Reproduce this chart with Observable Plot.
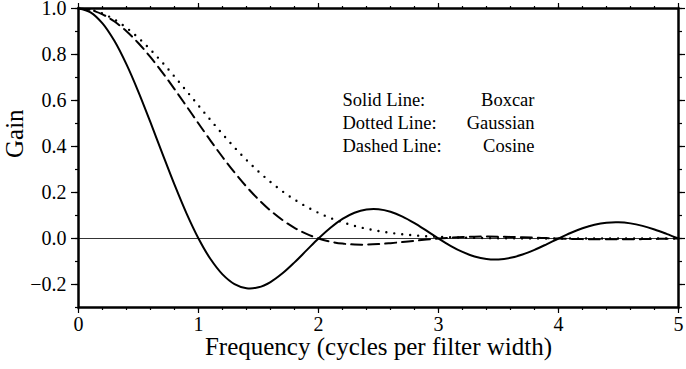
<!DOCTYPE html>
<html>
<head>
<meta charset="utf-8">
<script src="https://cdn.jsdelivr.net/npm/d3@7"></script>
<script src="https://cdn.jsdelivr.net/npm/@observablehq/plot@0.6"></script>
<style>
  html, body { margin: 0; padding: 0; background: #fff; }
  #chart svg { display: block; }
</style>
</head>
<body>
<div id="chart"></div>
<script>
// Frequency (cycles per filter width)
const freq = [0,0.1,0.2,0.3,0.4,0.5,0.6,0.7,0.8,0.9,1.0,1.1,1.2,1.3,1.4,1.5,1.6,1.7,1.8,1.9,2.0,2.1,2.2,2.3,2.4,2.5,2.6,2.7,2.8,2.9,3.0,3.1,3.2,3.3,3.4,3.5,3.6,3.7,3.8,3.9,4.0,4.1,4.2,4.3,4.4,4.5,4.6,4.7,4.8,4.9,5.0];
// Solid line: Boxcar
const boxcar = [1,0.9836,0.9355,0.8584,0.7568,0.6366,0.5046,0.3679,0.2339,0.1093,0,-0.0894,-0.1559,-0.1981,-0.2162,-0.2122,-0.1892,-0.1515,-0.1039,-0.0518,0,0.0468,0.0850,0.1120,0.1261,0.1273,0.1164,0.0954,0.0668,0.0339,0,-0.0317,-0.0585,-0.0780,-0.0890,-0.0909,-0.0841,-0.0696,-0.0492,-0.0252,0,0.0240,0.0445,0.0599,0.0688,0.0707,0.0658,0.0548,0.0390,0.0201,0];
// Dotted line: Gaussian
const gaussian = [1,0.9945,0.9783,0.9518,0.9160,0.8719,0.8209,0.7644,0.7041,0.6414,0.5779,0.5151,0.4541,0.3959,0.3414,0.2912,0.2457,0.2050,0.1692,0.1382,0.1116,0.0891,0.0704,0.0550,0.0425,0.0325,0.0246,0.0184,0.0136,0.0099,0.0072,0.0051,0.0036,0.0026,0.0018,0.0012,0.0008,0.0005,0.0004,0.0002,0.0001,0.0001,0,0,0,0,0,0,0,0,0];
// Dashed line: Cosine
const cosine = [1,0.9935,0.9745,0.9433,0.9010,0.8488,0.7884,0.7214,0.6497,0.5752,0.5,0.4257,0.3543,0.2871,0.2252,0.1698,0.1213,0.0802,0.0464,0.0198,0,-0.0137,-0.0221,-0.0261,-0.0265,-0.0242,-0.0202,-0.0152,-0.0098,-0.0046,0,0.0037,0.0063,0.0079,0.0084,0.0081,0.0070,0.0055,0.0037,0.0018,0,-0.0015,-0.0027,-0.0034,-0.0037,-0.0037,-0.0033,-0.0026,-0.0018,-0.0009,0];

const xMajor = [0,1,2,3,4,5];
const xMinor = d3.range(0, 5.001, 0.2).map(v => +v.toFixed(1));
const yMajor = [-0.2,0.0,0.2,0.4,0.6,0.8,1.0];
const yMinor = d3.range(-0.3, 1.0001, 0.1).map(v => +v.toFixed(1));

const legendLeft = ["Solid Line:", "Dotted Line:", "Dashed Line:"];
const legendRight = ["Boxcar", "Gaussian", "Cosine"];
const legendY = [0.6, 0.5, 0.4];

const xLabel = "Frequency (cycles per filter width)";
const yLabel = "Gain";

const toRows = vals => freq.map((f, i) => ({f, g: vals[i]}));

const font = "Liberation Serif, Times New Roman, serif";

const chart = Plot.plot({
  width: 686,
  height: 369,
  marginLeft: 78,
  marginRight: 8,
  marginTop: 8,
  marginBottom: 62,
  x: {domain: [0, 5]},
  y: {domain: [-0.3, 1.0]},
  style: {fontFamily: font, background: "#fff", color: "#000", overflow: "visible"},
  marks: [
    Plot.ruleY([0], {stroke: "#000", strokeWidth: 0.8}),
    Plot.line(toRows(boxcar), {x: "f", y: "g", stroke: "#000", strokeWidth: 2, curve: "catmull-rom"}),
    Plot.line(toRows(gaussian), {x: "f", y: "g", stroke: "#000", strokeWidth: 2.4, strokeDasharray: "0,8", strokeLinecap: "round", curve: "catmull-rom"}),
    Plot.line(toRows(cosine), {x: "f", y: "g", stroke: "#000", strokeWidth: 2, strokeDasharray: "11,6", curve: "catmull-rom"}),
    Plot.text(legendLeft, {x: 2.2, y: (d, i) => legendY[i], text: d => d, textAnchor: "start", fontSize: 18.5, fill: "#000"}),
    Plot.text(legendRight, {x: 3.8, y: (d, i) => legendY[i], text: d => d, textAnchor: "end", fontSize: 18.5, fill: "#000"}),
    // axes: bottom
    Plot.axisX({anchor: "bottom", ticks: xMajor, tickSize: 6, tickPadding: 3, tickFormat: d3.format("d"), fontSize: 20, label: null, strokeWidth: 1.2}),
    Plot.axisX({anchor: "bottom", ticks: xMinor, tickSize: 3, tickFormat: () => "", label: null, strokeWidth: 1.2}),
    Plot.axisX({anchor: "top", ticks: xMajor, tickSize: 6, tickFormat: () => "", label: null, strokeWidth: 1.2}),
    Plot.axisX({anchor: "top", ticks: xMinor, tickSize: 3, tickFormat: () => "", label: null, strokeWidth: 1.2}),
    Plot.axisY({anchor: "left", ticks: yMajor, tickSize: 7, tickPadding: 5, tickFormat: d => d3.format(".1f")(d).replace("-", "\u2212"), fontSize: 20, label: null, strokeWidth: 1.2}),
    Plot.axisY({anchor: "left", ticks: yMinor, tickSize: 3, tickFormat: () => "", label: null, strokeWidth: 1.2}),
    Plot.axisY({anchor: "right", ticks: yMajor, tickSize: 6, tickFormat: () => "", label: null, strokeWidth: 1.2}),
    Plot.axisY({anchor: "right", ticks: yMinor, tickSize: 3, tickFormat: () => "", label: null, strokeWidth: 1.2}),
    Plot.frame({stroke: "#000", strokeWidth: 2.5}),
    Plot.text([xLabel], {frameAnchor: "bottom", dy: 47, text: d => d, fontSize: 25, fill: "#000"}),
    Plot.text([yLabel], {frameAnchor: "left", dx: -64, rotate: -90, text: d => d, fontSize: 25, fill: "#000"})
  ]
});
document.getElementById("chart").appendChild(chart);
</script>
</body>
</html>
